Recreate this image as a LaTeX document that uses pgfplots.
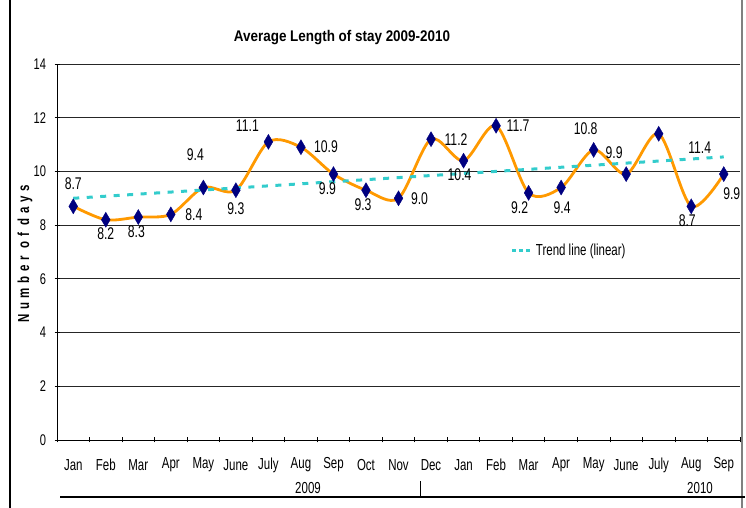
\documentclass[border=0pt]{standalone}
\usepackage{fontspec}
\setmainfont{Liberation Sans}[FakeStretch=0.72]
\newfontfamily\titlefont{Liberation Sans}[FakeStretch=0.87]
\usepackage{pgfplots}
\pgfplotsset{compat=1.18}
\usepackage{pgfplotstable}
\definecolor{navyc}{RGB}{0,0,128}
\definecolor{orangec}{RGB}{255,153,0}
\definecolor{trendc}{RGB}{51,204,204}

\pgfplotstableread{
x y lab dx dy
0 8.7 8.7 0 23
1 8.2 8.2 0 -14
2 8.3 8.3 -2 -15
3 8.4 8.4 23 0
4 9.4 9.4 -8 33
5 9.3 9.3 0 -18
6 11.1 11.1 -21 16
7 10.9 10.9 25 1
8 9.9 9.9 -6 -15
9 9.3 9.3 -3 -14
10 9.0 9.0 21 0
11 11.2 11.2 25 0
12 10.4 10.4 -4 -14
13 11.7 11.7 22 0
14 9.2 9.2 -9 -15
15 9.4 9.4 1 -20
16 10.8 10.8 -8 21
17 9.9 9.9 -12 21
18 11.4 11.4 41 -14
19 8.7 8.7 -4 -14
20 9.9 9.9 8 -20
}\staydata

\pgfplotstableread{
x y
0 9.00
20 10.54
}\trenddata

\begin{document}
\begin{tikzpicture}[x=1bp,y=1bp]
\useasboundingbox (0,0) rectangle (746,508);
\draw[black, line width=1.2bp] (10,0) -- (10,508);
\draw[gray, line width=2.5bp] (742,0) -- (742,508);
\begin{axis}[
  at={(57bp,68bp)}, anchor=south west,
  scale only axis, width=683bp, height=376bp,
  xmin=-0.5, xmax=20.5, ymin=0, ymax=14,
  ytick={0,2,...,14},
  xtick={-0.5,0.5,...,20.5}, xticklabels={},
  extra x ticks={0,1,...,20},
  extra x tick labels={Jan,Feb,Mar,Apr,May,June,July,Aug,Sep,Oct,Nov,Dec,Jan,Feb,Mar,Apr,May,June,July,Aug,Sep},
  extra x tick style={major tick length=0pt, xticklabel style={anchor=center, yshift=-25bp}},
  tick align=outside, major tick length=5bp,
  axis lines=left, axis line style={-, black, line width=0.8bp},
  tick style={black, line width=0.8bp},
  ymajorgrids, grid style={black!85, line width=0.8bp},
  every tick label/.append style={font=\fontsize{16}{18}\selectfont},
  yticklabel style={anchor=east, xshift=-5bp, font=\fontsize{15.5}{18}\selectfont},
  /pgf/number format/assume math mode=true,
  clip=false,
  legend style={draw=none, fill=none, at={(0.66,0.503)}, anchor=west, font=\fontsize{16}{18}\selectfont},
  legend image code/.code={\draw[#1, dash pattern=on 4bp off 3bp] (0bp,0bp) -- (20bp,0bp);},
]
\addplot[orangec, line width=2.8bp, smooth, forget plot] table[x=x,y=y] {\staydata};
\addplot[trendc, line width=3bp, dash pattern=on 6bp off 7.5bp] table[x=x,y=y] {\trenddata};
\addlegendentry{Trend line (linear)}
\addplot[only marks, mark=diamond*, mark size=7.5bp, mark options={fill=navyc, draw=navyc, xscale=0.78}, forget plot,
  point meta=explicit symbolic,
  visualization depends on={\thisrow{dx} \as \dx},
  visualization depends on={\thisrow{dy} \as \dy},
  nodes near coords,
  every node near coord/.append style={anchor=center, xshift=\dx bp, yshift=\dy bp, font=\fontsize{17}{19}\selectfont, text=black, inner sep=0pt}
] table[x=x,y=y,meta=lab] {\staydata};
\end{axis}
\node[font=\titlefont\bfseries\fontsize{15.5}{18}\selectfont] at (342,470) {Average Length of stay 2009-2010};
\node[rotate=90, font=\bfseries\fontsize{16}{18}\selectfont\addfontfeatures{LetterSpace=29}] at (25,254) {Number of days};
\node[font=\fontsize{16}{18}\selectfont] at (308,20) {2009};
\node[font=\fontsize{16}{18}\selectfont] at (700,20) {2010};
\draw[black, line width=1.2bp] (60,11) -- (745,11);
\draw[black, line width=0.8bp] (420,11) -- (420,27);
\end{tikzpicture}
\end{document}
